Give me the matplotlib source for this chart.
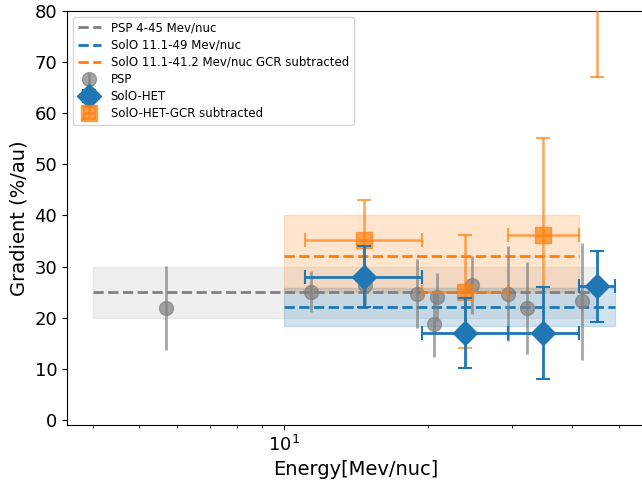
import numpy as np
import matplotlib
matplotlib.use('Agg')
import matplotlib.pyplot as plt
from matplotlib.ticker import NullFormatter

# PSP points
psp_e = [5.67, 11.4, 14.8, 19.0, 20.6, 20.9, 24.7, 29.4, 32.1, 41.8]
psp_g = [21.9, 25.1, 26.4, 24.7, 18.8, 24.1, 26.4, 24.7, 21.8, 23.2]
psp_err = [8.3, 4.0, 4.0, 6.7, 6.5, 4.7, 5.7, 9.3, 9.0, 11.5]

# SolO-HET
het_e = [14.7, 23.9, 34.8, 45.0]
het_lo = [11.1, 19.4, 29.4, 41.2]
het_hi = [19.4, 29.4, 41.2, 49.0]
het_g = [28.0, 17.0, 17.0, 26.1]
het_err = [6.0, 6.9, 9.0, 7.0]

# SolO-HET GCR subtracted
gcr_e = [14.7, 23.9, 34.8, 45.0]
gcr_lo = [11.1, 19.4, 29.4, 41.2]
gcr_hi = [19.4, 29.4, 41.2, 49.0]
gcr_g = [35.1, 25.1, 36.2, 95.0]
gcr_err = [7.9, 11.0, 18.9, 28.0]

# mean values and ranges
psp_range = (4, 45)
psp_mean, psp_band = 25, (20, 30)
het_range = (10, 49)
het_mean, het_band = 22, (18.4, 25.8)
gcr_range = (10, 41.2)
gcr_mean, gcr_band = 32, (25, 40)

fig = plt.figure(figsize=(6.42, 4.84), dpi=100)
ax = fig.add_axes([67 / 642, 59 / 484, 578 / 642, 414 / 484])

ax.fill_between(psp_range, *psp_band, color='gray', alpha=0.12)
ax.fill_between(het_range, *het_band, color='tab:blue', alpha=0.2)
ax.fill_between(gcr_range, *gcr_band, color='tab:orange', alpha=0.2)

ax.plot(psp_range, [psp_mean] * 2, '--', color='gray', lw=2, label='PSP 4-45 Mev/nuc')
ax.plot(het_range, [het_mean] * 2, '--', color='tab:blue', lw=2, label='SolO 11.1-49 Mev/nuc')
ax.plot(gcr_range, [gcr_mean] * 2, '--', color='tab:orange', lw=2,
        label='SolO 11.1-41.2 Mev/nuc GCR subtracted')

ax.errorbar(psp_e, psp_g, yerr=psp_err, fmt='o', color='gray', alpha=0.7,
            markersize=10, elinewidth=2, label='PSP')

het_x = np.array(het_e)
het_xerr = [het_x - np.array(het_lo), np.array(het_hi) - het_x]
ax.errorbar(het_e, het_g, xerr=het_xerr, yerr=het_err, fmt='D', color='tab:blue',
            markersize=12, elinewidth=2, capsize=5, capthick=1.5, zorder=4,
            label='SolO-HET')

gcr_x = np.array(gcr_e)
gcr_xerr = [gcr_x - np.array(gcr_lo), np.array(gcr_hi) - gcr_x]
ax.errorbar(gcr_e, gcr_g, xerr=gcr_xerr, yerr=gcr_err, fmt='s', color='tab:orange',
            alpha=0.7, markersize=11, elinewidth=1.8, capsize=5, capthick=1.5, zorder=3,
            label='SolO-HET-GCR subtracted')

ax.set_xscale('log')
ax.set_xlim(3.53, 56.7)
ax.set_ylim(-1, 80)
ax.set_yticks(range(0, 81, 10))
ax.xaxis.set_minor_formatter(NullFormatter())
ax.tick_params(labelsize=13)
ax.spines['right'].set_visible(False)

ax.set_xlabel('Energy[Mev/nuc]', fontsize=14)
ax.set_ylabel('Gradient (%/au)', fontsize=14)
ax.legend(loc='upper left', fontsize=8.5, labelspacing=0.35)

fig.savefig('out.png', dpi=100)
